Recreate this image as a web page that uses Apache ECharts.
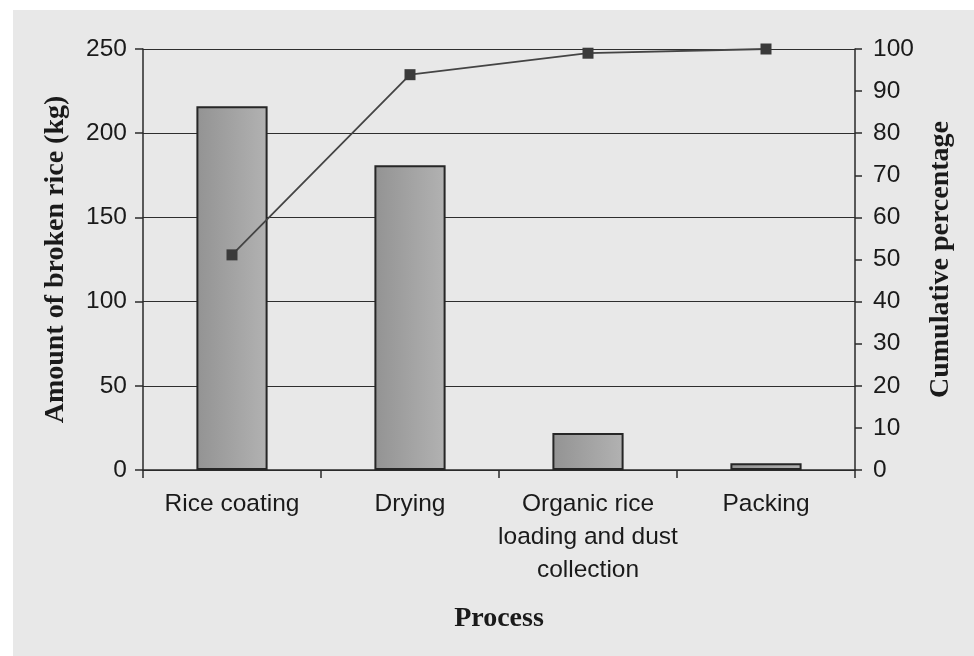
<!DOCTYPE html>
<html>
<head>
<meta charset="utf-8">
<script src="https://cdn.jsdelivr.net/npm/echarts@6/dist/echarts.min.js"></script>
<style>
  body { margin: 0; background: #ffffff; }
  #bg { position: absolute; left: 13px; top: 10px; right: 0; bottom: 0; background: #e8e8e8; }
  #main { position: absolute; left: 0; top: 0; width: 974px; height: 656px; }
</style>
</head>
<body>
<div id="bg"></div>
<div id="main"></div>
<script>
  // 数据
  var processes = ["Rice coating", "Drying", "Organic rice\nloading and dust\ncollection", "Packing"];
  var brokenRice = [216, 181, 22, 4];          // kg
  var cumulative = [51.1, 93.9, 99, 100];      // %

  var chart = echarts.init(document.getElementById("main"));

  var labelFont = { fontFamily: "Liberation Sans", fontSize: 24.5, color: "#1a1a1a" };
  var titleFont = { fontFamily: "Liberation Serif", fontSize: 28, fontWeight: "bold", color: "#1a1a1a" };

  chart.setOption({
    animation: false,
    grid: { left: 143, right: 119, top: 49, bottom: 186 },
    xAxis: {
      type: "category",
      data: processes,
      name: "Process",
      nameLocation: "middle",
      nameGap: 135,
      nameTextStyle: titleFont,
      axisLine: { lineStyle: { color: "#2a2a2a", width: 1.5 } },
      axisTick: { show: true, length: 8, lineStyle: { color: "#2a2a2a", width: 1.5 } },
      axisLabel: Object.assign({ margin: 18, lineHeight: 33, interval: 0 }, labelFont)
    },
    yAxis: [
      {
        type: "value",
        min: 0,
        max: 250,
        interval: 50,
        name: "Amount of broken rice (kg)",
        nameLocation: "middle",
        nameRotate: 90,
        nameGap: 73,
        nameTextStyle: titleFont,
        axisLine: { show: true, lineStyle: { color: "#2a2a2a", width: 1.5 } },
        axisTick: { show: true, length: 8, lineStyle: { color: "#2a2a2a", width: 1.5 } },
        axisLabel: Object.assign({ margin: 16 }, labelFont),
        splitLine: { show: true, lineStyle: { color: "#2e2e2e", width: 1.2 } }
      },
      {
        type: "value",
        min: 0,
        max: 100,
        interval: 10,
        position: "right",
        name: "Cumulative percentage",
        nameLocation: "middle",
        nameRotate: 90,
        nameGap: 72,
        nameTextStyle: titleFont,
        axisLine: { show: true, lineStyle: { color: "#2a2a2a", width: 1.5 } },
        axisTick: { show: true, length: 7, lineStyle: { color: "#2a2a2a", width: 1.5 } },
        axisLabel: Object.assign({ margin: 18 }, labelFont),
        splitLine: { show: false }
      }
    ],
    series: [
      {
        type: "bar",
        data: brokenRice,
        barWidth: "40%",
        itemStyle: {
          color: new echarts.graphic.LinearGradient(0, 0, 1, 0, [
            { offset: 0, color: "#939393" },
            { offset: 1, color: "#b2b2b2" }
          ]),
          borderColor: "#262626",
          borderWidth: 2
        }
      },
      {
        type: "line",
        yAxisIndex: 1,
        data: cumulative,
        symbol: "rect",
        symbolSize: 11,
        lineStyle: { color: "#444", width: 1.8 },
        itemStyle: { color: "#3a3a3a" }
      }
    ]
  });
</script>
</body>
</html>
